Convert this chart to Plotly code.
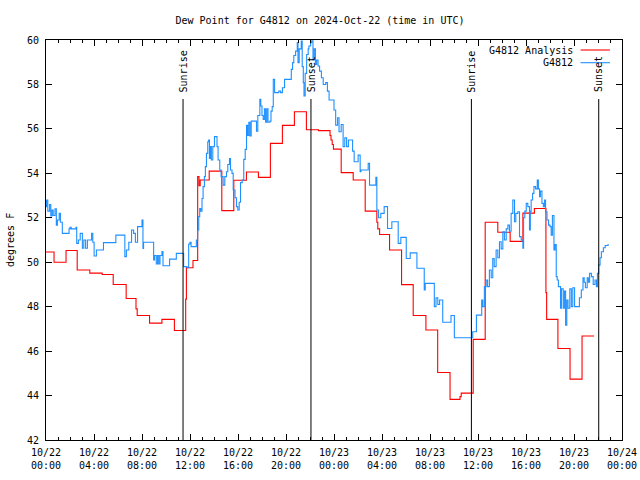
import plotly.graph_objects as go
from datetime import datetime, timedelta

# ---------------- data ----------------
BASE = datetime(2024, 10, 22, 0, 0)

# analysis (hours since 10/22 00:00 UTC, degrees F) - step series
analysis_hours = [0.0, 0.67, 1.67, 2.6, 3.65, 4.68, 5.6, 6.68, 7.5, 7.6, 8.63, 9.66, 10.7,
                  11.64, 11.7, 12.25, 12.64, 12.75, 12.85, 13.6, 14.65, 15.65, 16.7, 17.7,
                  18.7, 19.7, 20.7, 21.7, 22.7, 23.67, 23.75, 23.85, 23.95, 24.6, 25.6, 26.6,
                  27.57, 27.65, 27.8, 28.63, 29.63, 30.6, 31.66, 32.64, 33.67, 34.5, 34.6,
                  35.6, 36.6, 37.65, 38.68, 39.74, 40.7, 41.66, 41.72, 42.66, 43.67, 44.67, 45.67]
analysis_vals = [50.46, 50.0, 50.53, 49.65, 49.51, 49.45, 49.0, 48.37, 47.9, 47.6, 47.26, 47.43, 46.93,
                 48.34, 49.75, 50.08, 53.85, 53.44, 53.7, 54.1, 52.32, 53.69, 54.06, 53.82,
                 55.35, 56.16, 56.77, 55.96, 55.92, 55.7, 55.5, 55.3, 55.09, 54.03, 53.7, 52.3,
                 51.8, 51.5, 51.25, 50.55, 48.99, 47.6, 46.95, 45.04, 43.83, 43.95, 44.11,
                 46.53, 51.8, 51.35, 50.94, 52.21, 52.42, 48.63, 47.43, 46.12, 44.74, 46.68, 46.68]

# station observations
obs_hours = [0.0, 0.05, 0.15, 0.3, 0.4, 0.5, 0.6, 0.75, 0.86, 0.95, 1.1, 1.2, 1.36, 1.8, 1.92, 2.0,
             2.1, 2.5, 2.56, 2.7, 2.85, 3.03, 3.15, 3.3, 3.45, 3.8, 3.9, 4.01, 4.2, 4.79,
             5.82, 6.57, 6.7, 6.9, 7.13, 7.3, 7.45, 7.63, 8.0, 8.08, 8.13, 8.97, 9.05,
             9.19, 9.3, 9.4, 9.5, 9.66, 9.75, 10.3, 10.86, 11.47, 11.75, 11.89, 12.0, 12.09,
             12.53, 12.64, 12.73, 12.81, 12.9, 13.0, 13.09, 13.2, 13.28, 13.37, 13.48, 13.55,
             13.62, 13.7, 13.78, 13.9, 14.04, 14.25, 14.34, 14.48, 14.59, 14.76, 14.9, 15.04,
             15.15, 15.29, 15.37, 15.5, 15.6, 15.75, 15.87, 15.98, 16.1, 16.21, 16.35, 16.48,
             16.6, 16.71, 16.8, 16.9, 17.0, 17.1, 17.54, 17.65, 17.82, 17.9, 18.0, 18.1, 18.2,
             18.3, 18.4, 18.5, 18.66, 18.75, 18.85, 18.94, 19.05, 19.4, 19.55, 19.7, 19.88,
             20.44, 20.55, 20.65, 20.8, 20.94, 21.0, 21.1, 21.27, 21.35, 21.44, 21.5, 21.6,
             21.72, 21.85, 21.91, 22.05, 22.14, 22.25, 22.35, 22.45, 22.55, 22.67, 22.8,
             22.95, 23.1, 23.31, 23.45, 23.59, 24.0, 24.14, 24.3, 24.42, 24.6, 24.76, 24.9,
             25.05, 25.2, 25.55, 25.68, 26.01, 26.18, 26.25, 26.85, 26.96, 27.49, 27.57,
             27.7, 27.9, 28.18, 28.46, 28.82, 29.35, 29.57, 30.02, 30.35, 30.91, 31.52,
             31.6, 32.36, 32.5, 32.65, 32.8, 33.06, 33.75, 34.03, 35.56, 35.87, 36.31, 36.4,
             36.53, 36.68, 36.8, 36.95, 37.1, 37.23, 37.35, 37.51, 37.65, 37.79, 37.93,
             38.07, 38.2, 38.35, 38.49, 38.62, 38.76, 38.9, 39.04, 39.15, 39.32, 39.46,
             39.6, 39.74, 39.8, 39.9, 40.02, 40.15, 40.29, 40.36, 40.43, 40.55, 40.66, 40.8,
             40.94, 41.03, 41.13, 41.2, 41.33, 41.45, 41.55, 41.63, 41.75, 41.88, 42.0, 42.1,
             42.2, 42.33, 42.42, 42.52, 42.6, 42.7, 42.88, 42.95, 43.1, 43.2, 43.3, 43.4,
             43.5, 43.65, 43.78, 43.9, 44.05, 44.45, 44.61, 44.75, 44.85, 44.95, 45.1, 45.2,
             45.3, 45.45, 45.6, 45.75, 45.87, 45.95, 46.06, 46.17, 46.28, 46.45, 46.6, 46.84]
obs_vals = [52.5, 52.8, 52.3, 52.6, 52.08, 52.35, 52.1, 52.4, 51.67, 51.9, 52.2, 51.8, 51.3, 51.3, 51.5, 51.57,
            51.5, 51.57, 50.85, 51.0, 51.3, 50.63, 51.0, 50.63, 51.0, 51.3, 50.9, 50.28, 50.55, 50.88,
            51.22, 50.25, 50.55, 50.9, 51.45, 51.3, 50.9, 51.6, 51.9, 50.62, 50.9, 50.1, 50.3,
            49.92, 50.3, 49.92, 50.3, 50.48, 49.84, 50.14, 50.4, 49.8, 49.75, 50.82, 50.9, 50.7,
            51.0, 51.45, 52.05, 52.42, 52.3, 52.87, 53.4, 53.85, 54.3, 54.9, 55.42, 55.5,
            54.67, 55.2, 54.6, 55.2, 55.65, 55.2, 54.6, 54.15, 53.85, 53.47, 53.85, 54.07,
            54.4, 54.67, 54.15, 54.0, 53.25, 52.9, 52.5, 52.35, 52.7, 53.58, 53.7, 54.63,
            55.08, 56.16, 55.7, 56.3, 55.68, 56.35, 55.9, 56.6, 57.33, 57.03, 56.6, 56.43, 56.9,
            56.3, 56.9, 56.3, 56.35, 56.8, 57.0, 58.23, 57.63, 57.7, 57.63, 57.85, 58.23,
            58.68, 58.98, 59.3, 59.5, 59.88, 58.98, 59.6, 59.95, 58.8, 58.08, 57.48, 58.5,
            59.35, 59.6, 59.73, 59.88, 59.96, 59.1, 59.6, 58.9, 59.1, 58.83, 58.6,
            58.3, 58.0, 58.08, 57.7, 57.3, 56.85, 56.17, 56.5, 55.87, 56.2, 55.2, 55.6,
            55.2, 55.5, 55.0, 54.52, 54.82, 54.07, 54.15, 54.45, 53.47, 53.82, 52.35,
            52.0, 52.2, 52.5, 51.52, 51.82, 50.85, 51.12, 50.17, 50.42, 49.73, 48.75,
            49.05, 48.0, 48.4, 48.1, 48.3, 47.3, 47.6, 46.6, 46.87, 47.62, 48.3, 48.0,
            48.9, 49.2, 48.9, 49.65, 49.3, 50.17, 49.8, 50.55, 50.2, 50.92, 50.6,
            51.37, 51.0, 51.5, 51.67, 51.4, 52.2, 52.8, 51.82, 52.2, 52.27, 51.15,
            51.0, 50.63, 52.0, 52.3, 52.65, 52.5, 51.45, 52.3, 52.8, 53.1, 53.4, 53.3,
            53.7, 53.3, 52.95, 53.2, 52.65, 52.5, 52.8, 52.27, 51.9, 51.67, 51.6, 51.22,
            52.1, 50.55, 50.8, 49.35, 49.2, 48.9, 47.93, 48.8, 47.93, 48.7, 47.17, 48.3,
            47.93, 48.8, 48.0, 48.85, 48.0, 48.4, 48.75, 49.3, 49.1, 48.85, 49.3, 49.1,
            49.5, 49.35, 49.0, 49.2, 48.9, 49.5, 49.87, 50.2, 50.47, 50.65, 50.75, 50.82]

sun_hours = [11.42, 22.08, 35.45, 46.06]
sun_labels = ["Sunrise", "Sunset", "Sunrise", "Sunset"]

tick_hours = [0, 4, 8, 12, 16, 20, 24, 28, 32, 36, 40, 44, 48]
tick_text = ["10/22<br>00:00", "10/22<br>04:00", "10/22<br>08:00", "10/22<br>12:00",
             "10/22<br>16:00", "10/22<br>20:00", "10/23<br>00:00", "10/23<br>04:00",
             "10/23<br>08:00", "10/23<br>12:00", "10/23<br>16:00", "10/23<br>20:00",
             "10/24<br>00:00"]

TITLE = "Dew Point for G4812 on 2024-Oct-22 (time in UTC)"
Y_TITLE = "degrees F"
NAME_A = "G4812 Analysis"
NAME_O = "G4812"
RED = "#ff0000"
BLUE = "#1e90ff"
FONT = "DejaVu Sans Mono"


def to_dt(hs):
    return [BASE + timedelta(hours=h) for h in hs]


fig = go.Figure()
fig.add_trace(go.Scatter(x=to_dt(analysis_hours), y=analysis_vals, mode="lines",
                         line=dict(color=RED, width=1.1, shape="hv"), name=NAME_A))
fig.add_trace(go.Scatter(x=to_dt(obs_hours), y=obs_vals, mode="lines",
                         line=dict(color=BLUE, width=1.1, shape="hv"), name=NAME_O))

# sunrise / sunset markers
for h, lab in zip(sun_hours, sun_labels):
    t = BASE + timedelta(hours=h)
    fig.add_shape(type="line", xref="x", yref="paper", x0=t, x1=t, y0=0, y1=0.8525,
                  line=dict(color="black", width=1))
    fig.add_annotation(x=t, xref="x", yref="paper", y=0.864, text=lab, textangle=-90,
                       showarrow=False, xanchor="center", yanchor="bottom",
                       font=dict(family=FONT, size=10, color="black"))

# gnuplot-style key (text right, line sample to its right)
for i, (name, col) in enumerate([(NAME_A, RED), (NAME_O, BLUE)]):
    ypix = 50 + i * 12.7
    yp = 1 - (ypix - 40) / 400
    fig.add_annotation(x=0.9185, xref="paper", y=yp, yref="paper", text=name,
                       showarrow=False, xanchor="right", yanchor="middle",
                       font=dict(family=FONT, size=10, color="black"))
    fig.add_shape(type="line", xref="paper", yref="paper", x0=0.928, x1=0.979,
                  y0=yp, y1=yp, line=dict(color=col, width=1.1))

fig.add_annotation(x=0, xref="paper", xshift=-36, y=0.5, yref="paper", text=Y_TITLE,
                   textangle=-90, showarrow=False, xanchor="center", yanchor="middle",
                   font=dict(family=FONT, size=10, color="black"))

fig.update_layout(
    width=640, height=480,
    margin=dict(l=46, r=18, t=40, b=40),
    paper_bgcolor="white", plot_bgcolor="white",
    showlegend=False,
    title=dict(text=TITLE, x=0.5, xanchor="center", y=1 - 20 / 480, yanchor="middle",
               font=dict(family=FONT, size=10, color="black")),
    font=dict(family=FONT, size=10, color="black"),
)
fig.update_xaxes(
    range=[BASE, BASE + timedelta(hours=48)],
    tickmode="array", tickvals=to_dt(tick_hours), ticktext=tick_text,
    ticks="inside", ticklen=6, tickcolor="black", tickwidth=1,
    minor=dict(tickmode="linear", tick0=BASE, dtick=3600000, ticks="inside",
               ticklen=3, tickcolor="black", showgrid=False),
    showline=True, linecolor="black", linewidth=1, mirror="ticks",
    showgrid=False, zeroline=False, automargin=False, ticklabelstandoff=3,
    tickfont=dict(family=FONT, size=10, color="black"),
)
fig.update_yaxes(
    range=[42, 60], tickmode="linear", tick0=42, dtick=2,
    ticks="inside", ticklen=6, tickcolor="black", tickwidth=1,
    showline=True, linecolor="black", linewidth=1, mirror="ticks",
    showgrid=False, zeroline=False, automargin=False, ticklabelstandoff=4,
    tickfont=dict(family=FONT, size=10, color="black"),
)

fig.write_html(
    "out.html",
    config={"displayModeBar": False},
    post_script="document.body.style.margin='0';document.body.style.overflow='hidden';",
)
